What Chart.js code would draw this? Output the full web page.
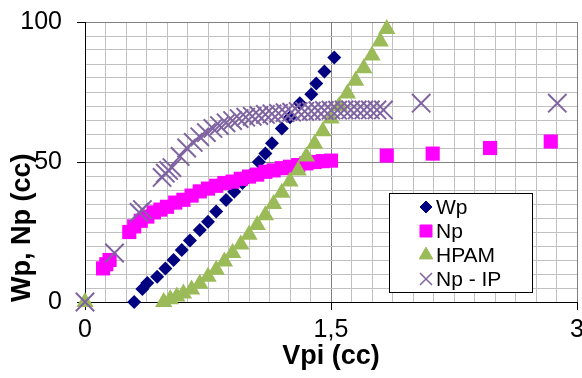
<!DOCTYPE html>
<html>
<head>
<meta charset="utf-8">
<script src="https://cdn.jsdelivr.net/npm/chart.js@4"></script>
<style>
  body { margin: 0; background: #fff; }
</style>
</head>
<body>
<canvas id="cv" width="582" height="378"></canvas>
<script>
// werte
const wpX = [0.30, 0.35, 0.38, 0.44, 0.49, 0.54, 0.59, 0.64, 0.70, 0.75, 0.80, 0.86, 0.91, 0.96, 1.01, 1.06, 1.10, 1.14, 1.20, 1.25, 1.31, 1.38, 1.41, 1.46, 1.52];
const wpY = [0, 4.6, 6.8, 9, 12, 15, 18.6, 22, 25.7, 28.7, 32.3, 36.4, 39.4, 42.5, 45.4, 50, 53, 56.7, 62, 66, 71, 74.2, 78, 82.3, 87.3];

const npX = [0.11, 0.13, 0.15, 0.27, 0.30, 0.34, 0.38, 0.42, 0.46, 0.50, 0.55, 0.60, 0.65, 0.70, 0.75, 0.80, 0.85, 0.90, 0.95, 1.00, 1.05, 1.10, 1.15, 1.20, 1.25, 1.30, 1.35, 1.40, 1.45, 1.50, 1.84, 2.12, 2.47, 2.84];
const npY = [12, 13.5, 15, 25, 27, 29, 30.5, 32, 33, 34, 35.5, 36.5, 38, 39.5, 40.5, 41.5, 42.5, 43, 44, 44.8, 45.5, 46.5, 47, 47.8, 48.3, 48.9, 49.5, 50, 50.3, 50.5, 52.3, 53, 55, 57.3];

const hpamX = [0, 0.48, 0.52, 0.56, 0.60, 0.65, 0.70, 0.75, 0.80, 0.85, 0.90, 0.95, 1.00, 1.05, 1.10, 1.15, 1.20, 1.25, 1.30, 1.35, 1.40, 1.45, 1.50, 1.55, 1.60, 1.65, 1.70, 1.75, 1.80, 1.84];
const hpamY = [0, 0, 1, 2, 3, 4.5, 6.5, 9, 11.5, 14.5, 17.5, 20.5, 24, 27.5, 31, 35, 39, 43, 47, 52, 56.5, 61, 65.5, 70, 74.5, 79, 83.5, 88, 93, 97.5];

const ipX = [0, 0.18, 0.33, 0.35, 0.47, 0.49, 0.51, 0.53, 0.58, 0.62, 0.66, 0.70, 0.74, 0.78, 0.82, 0.86, 0.90, 0.94, 0.98, 1.02, 1.06, 1.10, 1.14, 1.18, 1.22, 1.26, 1.30, 1.34, 1.38, 1.42, 1.46, 1.50, 1.54, 1.58, 1.62, 1.66, 1.70, 1.74, 1.78, 1.82, 2.05, 2.88];
const ipY = [0, 17.5, 32, 33, 44.5, 46, 47, 48, 52, 55, 57, 59, 60.5, 62, 63, 64, 64.8, 65.5, 66, 66.3, 66.6, 67, 67.2, 67.4, 67.6, 67.8, 68, 68.1, 68.2, 68.3, 68.4, 68.5, 68.5, 68.6, 68.6, 68.6, 68.6, 68.6, 68.6, 68.6, 71, 71];

// achsen
const xTickValues = [0, 1.5, 3];
const xTickLabels = ["0", "1,5", "3"];
const yTickValues = [0, 50, 100];
const yTickLabels = ["0", "50", "100"];

const seriesNames = ["Wp", "Np", "HPAM", "Np - IP"];

function pts(xs, ys) {
    return xs.map((x, i) => ({x: x, y: ys[i]}));
}
function findTick(list, v) {
    return list.findIndex((t) => Math.abs(t - v) < 1e-6);
}

Chart.defaults.font.family = "'Liberation Sans', Arial, sans-serif";
Chart.defaults.color = "#000";

// legende im plotbereich (wie excel)
const legendBox = {
    id: "legendBox",
    afterDatasetsDraw(chart) {
        const ctx = chart.ctx;
        const radii = [6, 8.5, 7.8, 8.5];
        ctx.save();
        ctx.fillStyle = "#fff";
        ctx.strokeStyle = "#000";
        ctx.lineWidth = 1;
        ctx.fillRect(389.5, 193.5, 143, 99);
        ctx.strokeRect(389.5, 193.5, 143, 99);
        chart.data.datasets.forEach((ds, i) => {
            const y = 207 + i * 24;
            ctx.fillStyle = ds.backgroundColor;
            ctx.strokeStyle = ds.borderColor;
            ctx.lineWidth = ds.pointStyle === "crossRot" ? 1.5 : 1;
            Chart.helpers.drawPoint(ctx, {pointStyle: ds.pointStyle, radius: radii[i], rotation: 0, borderWidth: ctx.lineWidth}, 426, y);
            ctx.fillStyle = "#000";
            ctx.font = "21px 'Liberation Sans', Arial, sans-serif";
            ctx.textBaseline = "middle";
            ctx.textAlign = "left";
            ctx.fillText(ds.label, 436, y + 1);
        });
        ctx.restore();
    }
};

const config = {
    type: "scatter",
    data: {
        datasets: [
            {label: seriesNames[0], data: pts(wpX, wpY), pointStyle: "rectRot", pointRadius: 7, backgroundColor: "#000080", borderColor: "#000080", borderWidth: 0, order: 3, clip: false},
            {label: seriesNames[1], data: pts(npX, npY), pointStyle: "rect", pointRadius: 10, backgroundColor: "#ff00ff", borderColor: "#ff00ff", borderWidth: 0, order: 2, clip: false},
            {label: seriesNames[2], data: pts(hpamX, hpamY), pointStyle: "triangle", pointRadius: 10, backgroundColor: "#9bbb59", borderColor: "#9bbb59", borderWidth: 0, order: 1, clip: false},
            {label: seriesNames[3], data: pts(ipX, ipY), pointStyle: "crossRot", pointRadius: 13, backgroundColor: "#8064a2", borderColor: "#8064a2", borderWidth: 2, order: 0, clip: false}
        ]
    },
    options: {
        responsive: false,
        animation: false,
        devicePixelRatio: 1,
        layout: {autoPadding: false, padding: {top: 22, right: 5, left: 0, bottom: 0}},
        plugins: {legend: {display: false}, tooltip: {enabled: false}},
        scales: {
            x: {
                type: "linear",
                min: 0, max: 3,
                afterFit: (s) => { s.height = 76; s.paddingLeft = 0; s.paddingRight = 0; },
                ticks: {
                    stepSize: 0.125, autoSkip: false, maxRotation: 0, maxTicksLimit: 100,
                    padding: 5,
                    font: {size: 25},
                    callback: (v) => findTick(xTickValues, v) >= 0 ? xTickLabels[findTick(xTickValues, v)] : ""
                },
                grid: {
                    color: (c) => findTick(xTickValues, c.tick.value) >= 0 ? "#808080" : "#c0c0c0",
                    tickColor: (c) => findTick(xTickValues, c.tick.value) >= 0 ? "#000" : "rgba(0,0,0,0)",
                    tickLength: 8,
                    lineWidth: 1
                },
                border: {color: "#000", width: 1},
                title: {display: true, text: "Vpi (cc)", font: {size: 27, weight: "bold"}, padding: {top: 0, bottom: 5}}
            },
            y: {
                type: "linear",
                min: 0, max: 100,
                afterFit: (s) => { s.width = 85; s.paddingTop = 0; s.paddingBottom = 0; },
                ticks: {
                    stepSize: 5, autoSkip: false, maxTicksLimit: 100,
                    padding: 15,
                    font: {size: 25},
                    callback: (v) => findTick(yTickValues, v) >= 0 ? yTickLabels[findTick(yTickValues, v)] : ""
                },
                grid: {
                    color: (c) => findTick(yTickValues, c.tick.value) >= 0 ? "#808080" : "#c0c0c0",
                    tickColor: (c) => findTick(yTickValues, c.tick.value) >= 0 ? "#000" : "rgba(0,0,0,0)",
                    tickLength: 8,
                    lineWidth: 1
                },
                border: {color: "#000", width: 1},
                title: {display: true, text: "Wp, Np (cc)", align: "start", font: {size: 27, weight: "bold"}, padding: {top: 6, bottom: 0}}
            }
        }
    },
    plugins: [legendBox]
};

new Chart(document.getElementById("cv").getContext("2d"), config);
</script>
</body>
</html>
